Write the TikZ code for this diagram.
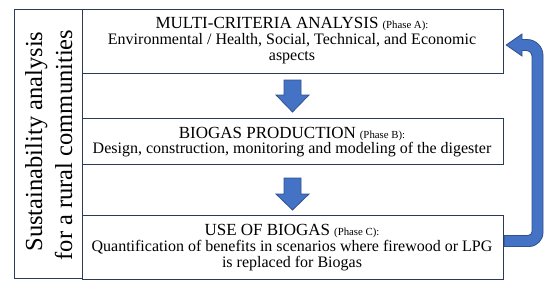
\documentclass[tikz,border=0pt]{standalone}
\usepackage{fontspec}
\setmainfont{Liberation Serif}
\usetikzlibrary{calc}
\definecolor{edge}{HTML}{2B3A55}
\definecolor{arrfill}{HTML}{4472C4}
\definecolor{arredge}{HTML}{2F528F}
\tikzset{
  box/.style={draw=edge, line width=1.2pt, fill=white, anchor=north west, inner sep=0pt},
  boxtext/.style={anchor=base, inner sep=0pt, font=\fontsize{16}{16}\selectfont},
  sidetext/.style={anchor=base, rotate=90, inner sep=0pt, font=\fontsize{24.5}{30}\selectfont},
  blockarrow/.style={fill=arrfill, draw=arredge, line width=0.8pt, line join=miter},
}
\newcommand{\capt}[1]{{\fontsize{17}{16}\selectfont #1}}
\newcommand{\phs}[1]{{\fontsize{10.8}{16}\selectfont #1}}
\begin{document}
\begin{tikzpicture}[x=1pt,y=-1pt]
\useasboundingbox (0,0) rectangle (550,285);
% left column
\node[box, minimum width=68pt, minimum height=269pt] (L) at (13.5,9) {};
\node[sidetext] (L1) at (42,141.5) {Sustainability analysis};
\node[sidetext] (L2) at (72,145) {for a rural communities};
% boxes
\node[box, minimum width=421.5pt, minimum height=64pt] (A) at (81.5,9) {};
\node[box, minimum width=421.5pt, minimum height=46pt] (B) at (81.5,118) {};
\node[box, minimum width=421.5pt, minimum height=64pt] (C) at (81.5,215) {};
\node[boxtext] (A1) at (292,28) {\capt{MULTI-CRITERIA ANALYSIS} \phs{(Phase A):}};
\node[boxtext] (A2) at (292,44) {Environmental / Health, Social, Technical, and Economic};
\node[boxtext] (A3) at (292,60) {aspects};
\node[boxtext] (B1) at (292,138) {\capt{BIOGAS PRODUCTION} \phs{(Phase B):}};
\node[boxtext] (B2) at (292,153) {Design, construction, monitoring and modeling of the digester};
\node[boxtext] (C1) at (292,235) {\capt{USE OF BIOGAS} \phs{(Phase C):}};
\node[boxtext] (C2) at (292,251) {Quantification of benefits in scenarios where firewood or LPG};
\node[boxtext] (C3) at (292,267) {is replaced for Biogas};
% down arrows
\draw[blockarrow] (284,80) -- (301,80) -- (301,95) -- (309,95) -- (292.5,112) -- (276,95) -- (284,95) -- cycle;
\draw[blockarrow] (284,178) -- (301,178) -- (301,194) -- (309,194) -- (292.5,210) -- (276,194) -- (284,194) -- cycle;
% feedback arrow from C back to A
\draw[blockarrow]
  (C.east |- 0,235.5) [rounded corners=4pt] -- (532,235.5) [rounded corners=6pt] -- (532,50.5) [sharp corners] -- (522,50.5) -- (522,56) -- ($(A.east |- 0,45)+(2,0)$) -- (522,34) -- (522,39.5) [rounded corners=16pt] -- (543,39.5) [rounded corners=14pt] -- (543,246.5) [sharp corners] -- (C.east |- 0,246.5) -- cycle;
\end{tikzpicture}
\end{document}
